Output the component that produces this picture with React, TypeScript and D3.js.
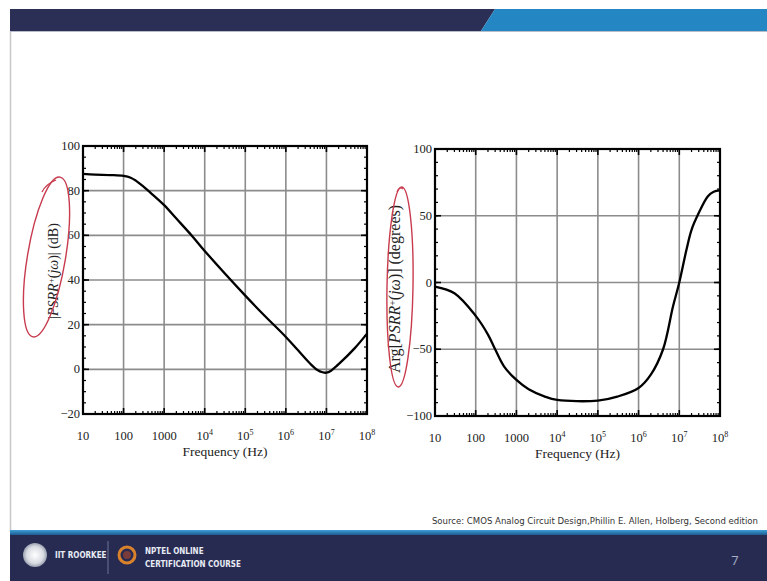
import React from "react";
import * as d3 from "d3";

// left panel: |PSRR+(jw)| in dB
const magFreq = [10, 20, 50, 100, 150, 200, 300, 500, 1000, 2000, 5000, 1e4, 1e5, 3e5, 1e6, 2e6, 4e6, 6e6, 8e6, 1e7, 1.3e7, 1.6e7, 2e7, 5e7, 1e8];
const magDb = [87.5, 87.2, 87, 86.6, 85.8, 84.5, 82, 78.5, 73.5, 67.5, 59.5, 53, 33, 24, 14.5, 8.5, 2.5, -0.3, -1.3, -1.5, -0.6, 0.8, 2.3, 9.5, 16];
const magTicks = [-20, 0, 20, 40, 60, 80, 100];

// right panel: phase in degrees
const phaseFreq = [10, 30, 100, 200, 300, 500, 1000, 2000, 5000, 1e4, 1e5, 3e5, 1e6, 2e6, 4e6, 7e6, 1e7, 1.5e7, 2e7, 3e7, 5e7, 7e7, 1e8];
const phaseDeg = [-3, -8, -25, -39, -50, -63, -73, -80, -85.5, -88, -88.5, -85.5, -79, -69, -50, -18, 0, 24.5, 39.5, 52, 64.5, 68, 69];
const phaseTicks = [-100, -50, 0, 50, 100];

const freqTicks = [10, 100, 1000, 1e4, 1e5, 1e6, 1e7, 1e8];
const freqLabels = ["10", "100", "1000", "10|4", "10|5", "10|6", "10|7", "10|8"];

const serif = "'Liberation Serif', 'DejaVu Serif', serif";
const sans = "'Open Sans', 'Liberation Sans', sans-serif";
const narrow = "'Liberation Sans Narrow', 'DejaVu Sans Condensed', 'Liberation Sans', sans-serif";

function Panel({ freq, vals, yTicks, yMinorStep, x0, x1, y0, y1, yLabel }) {
  const x = d3.scaleLog().domain([10, 1e8]).range([x0, x1]);
  const yDom = d3.extent(yTicks);
  const y = d3.scaleLinear().domain(yDom).range([y1, y0]);

  const minor = [];
  for (let e = 1; e < 8; e++) {
    for (let m = 2; m < 10; m++) minor.push(m * Math.pow(10, e));
  }
  const yMinor = d3.range(yDom[0], yDom[1] + 0.001, yMinorStep);

  const line = d3
    .line()
    .x((d) => x(d[0]))
    .y((d) => y(d[1]))
    .curve(d3.curveCatmullRom.alpha(0.5));
  const pts = freq.map((f, i) => [f, vals[i]]);

  return (
    <g>
      {freqTicks.slice(1, -1).map((f) => (
        <line key={"gv" + f} x1={x(f)} x2={x(f)} y1={y0} y2={y1} stroke="#8c8c8c" strokeWidth={1.6} />
      ))}
      {yTicks.slice(1, -1).map((v) => (
        <line key={"gh" + v} x1={x0} x2={x1} y1={y(v)} y2={y(v)} stroke="#8c8c8c" strokeWidth={1.6} />
      ))}
      {minor.map((f) => (
        <g key={"mx" + f}>
          <line x1={x(f)} x2={x(f)} y1={y1} y2={y1 - 3} stroke="#000" strokeWidth={1.2} />
          <line x1={x(f)} x2={x(f)} y1={y0} y2={y0 + 3} stroke="#000" strokeWidth={1.2} />
        </g>
      ))}
      {freqTicks.map((f) => (
        <g key={"Mx" + f}>
          <line x1={x(f)} x2={x(f)} y1={y1} y2={y1 - 6} stroke="#000" strokeWidth={1.6} />
          <line x1={x(f)} x2={x(f)} y1={y0} y2={y0 + 6} stroke="#000" strokeWidth={1.6} />
        </g>
      ))}
      {yMinor.map((v) => (
        <g key={"my" + v}>
          <line x1={x0} x2={x0 + 3} y1={y(v)} y2={y(v)} stroke="#000" strokeWidth={1.2} />
          <line x1={x1} x2={x1 - 3} y1={y(v)} y2={y(v)} stroke="#000" strokeWidth={1.2} />
        </g>
      ))}
      {yTicks.map((v) => (
        <g key={"My" + v}>
          <line x1={x0} x2={x0 + 6} y1={y(v)} y2={y(v)} stroke="#000" strokeWidth={1.6} />
          <line x1={x1} x2={x1 - 6} y1={y(v)} y2={y(v)} stroke="#000" strokeWidth={1.6} />
          <text x={x0 - 3} y={y(v) + 4} textAnchor="end" fontFamily={serif} fontSize={12.5} fill="#222">
            {v < 0 ? "\u2212" + Math.abs(v) : v}
          </text>
        </g>
      ))}
      <path d={line(pts)} fill="none" stroke="#000" strokeWidth={2.3} />
      <rect x={x0} y={y0} width={x1 - x0} height={y1 - y0} fill="none" stroke="#000" strokeWidth={2.2} />
      {freqTicks.map((f, i) => {
        const [b, p] = freqLabels[i].split("|");
        return (
          <text key={"lx" + f} x={x(f)} y={y1 + 26} textAnchor="middle" fontFamily={serif} fontSize={12.5} fill="#222">
            {b}
            {p && (
              <tspan dy={-5} fontSize={8}>
                {p}
              </tspan>
            )}
          </text>
        );
      })}
      <text x={(x0 + x1) / 2} y={y1 + 42} textAnchor="middle" fontFamily={serif} fontSize={13.5} fill="#222">
        Frequency (Hz)
      </text>
      {yLabel}
    </g>
  );
}

export default function App() {
  return (
    <svg width={767} height={581} style={{ position: "absolute", left: 0, top: 0, background: "#fff" }}>
      <defs>
        <linearGradient id="footLine" x1="0" x2="0" y1="0" y2="1">
          <stop offset="0" stopColor="#3da0d8" />
          <stop offset="1" stopColor="#1d5a90" />
        </linearGradient>
        <radialGradient id="logo">
          <stop offset="0" stopColor="#ffffff" />
          <stop offset="0.7" stopColor="#d8dbe2" />
          <stop offset="1" stopColor="#9aa0b0" />
        </radialGradient>
      </defs>

      {/* slide frame */}
      <rect x={0} y={0} width={767} height={581} fill="#fff" />
      <line x1={10.5} x2={10.5} y1={31} y2={532} stroke="#c8c8c8" strokeWidth={1.5} />
      <polygon points="10,9 495,9 481,31 10,31" fill="#2b2f55" />
      <polygon points="495,9 767,9 767,31 481,31" fill="#2486c2" />
      <line x1={10} x2={767} y1={31.5} y2={31.5} stroke="#b8bcc8" strokeWidth={1} />

      <Panel
        freq={magFreq}
        vals={magDb}
        yTicks={magTicks}
        yMinorStep={5}
        x0={83}
        x1={367}
        y0={146}
        y1={414}
        yLabel={
          <text transform="translate(58,271) rotate(-90)" textAnchor="middle" fontFamily={serif} fontSize={14} fill="#222">
            |<tspan fontStyle="italic">PSRR</tspan>
            <tspan dy={-4} fontSize={9}>+</tspan>
            <tspan dy={4}>(</tspan>
            <tspan fontStyle="italic">jω</tspan>)|  (dB)
          </text>
        }
      />
      <Panel
        freq={phaseFreq}
        vals={phaseDeg}
        yTicks={phaseTicks}
        yMinorStep={10}
        x0={435}
        x1={720}
        y0={149}
        y1={416}
        yLabel={
          <text transform="translate(400,289) rotate(-90)" textAnchor="middle" fontFamily={serif} fontSize={16} fill="#222">
            Arg[<tspan fontStyle="italic">PSRR</tspan>
            <tspan dy={-4} fontSize={10}>+</tspan>
            <tspan dy={4}>(</tspan>
            <tspan fontStyle="italic">jω</tspan>)] (degrees)
          </text>
        }
      />

      {/* hand drawn red marks */}
      <ellipse cx={46.5} cy={257} rx={19} ry={81} transform="rotate(9.6 46.5 257)" fill="none" stroke="#c83a4e" strokeWidth={1.4} />
      <path d="M42,192 Q46,184 56,180" fill="none" stroke="#c83a4e" strokeWidth={1.3} />
      <ellipse cx={400} cy={287} rx={13} ry={100} transform="rotate(1 400 287)" fill="none" stroke="#c83a4e" strokeWidth={1.4} />
      <path d="M397,192 Q399,186 403,189" fill="none" stroke="#c83a4e" strokeWidth={1.2} />

      {/* source + footer */}
      <text x={758} y={524} textAnchor="end" fontFamily={narrow} fontSize={9.5} fill="#333">
        Source: CMOS Analog Circuit Design,Phillin E. Allen, Holberg, Second edition
      </text>
      <rect x={10} y={530} width={757} height={5} fill="url(#footLine)" />
      <rect x={10} y={535} width={757} height={46} fill="#272b52" />
      <circle cx={35} cy={555} r={12} fill="url(#logo)" />
      <text x={55} y={558} fontFamily={narrow} fontSize={8} fontWeight="bold" fill="#e8ecf4">
        IIT ROORKEE
      </text>
      <line x1={108} x2={108} y1={541} y2={574} stroke="#6d7395" strokeWidth={1} />
      <circle cx={127} cy={555} r={8} fill="none" stroke="#d9822b" strokeWidth={3} />
      <circle cx={127} cy={555} r={4} fill="#7a3b3b" />
      <text x={145} y={554} fontFamily={narrow} fontSize={8} fontWeight="bold" fill="#e8ecf4">
        NPTEL ONLINE
      </text>
      <text x={145} y={567} fontFamily={narrow} fontSize={8} fontWeight="bold" fill="#e8ecf4">
        CERTIFICATION COURSE
      </text>
      <text x={735} y={565} textAnchor="middle" fontFamily={sans} fontSize={13} fill="#a9b1c8">
        7
      </text>
    </svg>
  );
}
